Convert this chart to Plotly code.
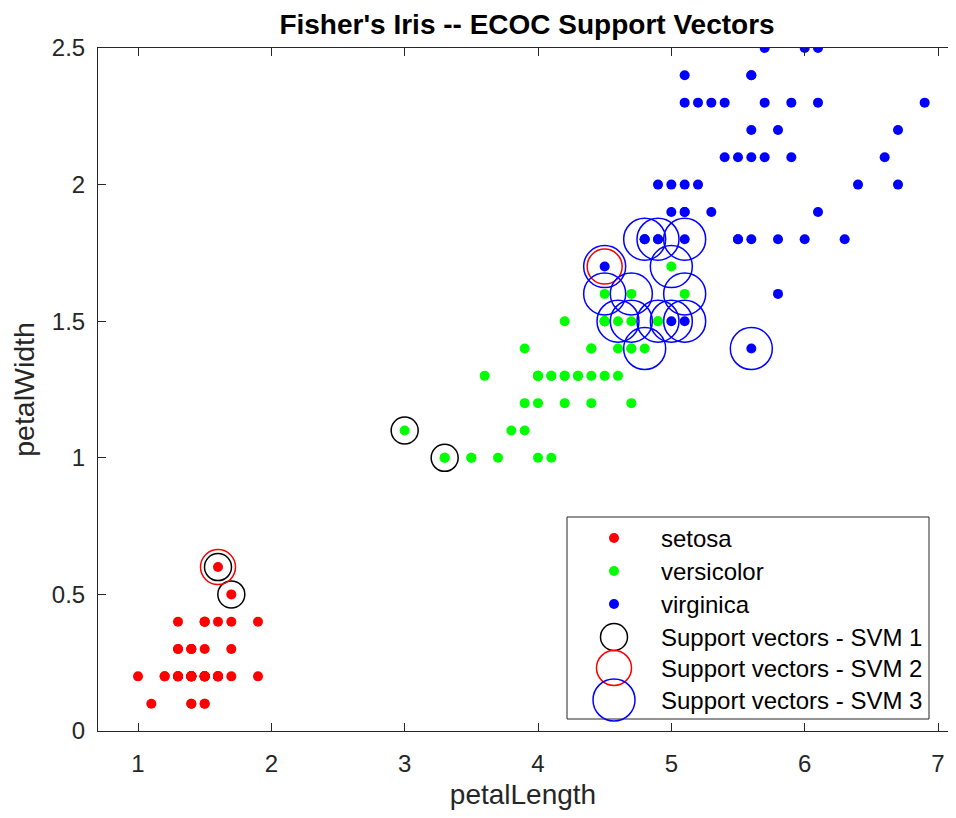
import plotly.graph_objects as go

# ---------------- data (Fisher's iris petal measurements) ----------------
setosa_len = [1.4,1.4,1.3,1.5,1.4,1.7,1.4,1.5,1.4,1.5,1.5,1.6,1.4,1.1,1.2,1.5,1.3,1.4,1.7,1.5,
              1.7,1.5,1.0,1.7,1.9,1.6,1.6,1.5,1.4,1.6,1.6,1.5,1.5,1.4,1.5,1.2,1.3,1.4,1.3,1.5,
              1.3,1.3,1.3,1.6,1.9,1.4,1.6,1.4,1.5,1.4]
setosa_wid = [0.2,0.2,0.2,0.2,0.2,0.4,0.3,0.2,0.2,0.1,0.2,0.2,0.1,0.1,0.2,0.4,0.4,0.3,0.3,0.3,
              0.2,0.4,0.2,0.5,0.2,0.2,0.4,0.2,0.2,0.2,0.2,0.4,0.1,0.2,0.2,0.2,0.2,0.1,0.2,0.2,
              0.3,0.3,0.2,0.6,0.4,0.3,0.2,0.2,0.2,0.2]
versicolor_len = [4.7,4.5,4.9,4.0,4.6,4.5,4.7,3.3,4.6,3.9,3.5,4.2,4.0,4.7,3.6,4.4,4.5,4.1,4.5,3.9,
                  4.8,4.0,4.9,4.7,4.3,4.4,4.8,5.0,4.5,3.5,3.8,3.7,3.9,5.1,4.5,4.5,4.7,4.4,4.1,4.0,
                  4.4,4.6,4.0,3.3,4.2,4.2,4.2,4.3,3.0,4.1]
versicolor_wid = [1.4,1.5,1.5,1.3,1.5,1.3,1.6,1.0,1.3,1.4,1.0,1.5,1.0,1.4,1.3,1.4,1.5,1.0,1.5,1.1,
                  1.8,1.3,1.5,1.2,1.3,1.4,1.4,1.7,1.5,1.0,1.1,1.0,1.2,1.6,1.5,1.6,1.5,1.3,1.3,1.3,
                  1.2,1.4,1.2,1.0,1.3,1.2,1.3,1.3,1.1,1.3]
virginica_len = [6.0,5.1,5.9,5.6,5.8,6.6,4.5,6.3,5.8,6.1,5.1,5.3,5.5,5.0,5.1,5.3,5.5,6.7,6.9,5.0,
                 5.7,4.9,6.7,4.9,5.7,6.0,4.8,4.9,5.6,5.8,6.1,6.4,5.6,5.1,5.6,6.1,5.6,5.5,4.8,5.4,
                 5.6,5.1,5.1,5.9,5.7,5.2,5.0,5.2,5.4,5.1]
virginica_wid = [2.5,1.9,2.1,1.8,2.2,2.1,1.7,1.8,1.8,2.5,2.0,1.9,2.1,2.0,2.4,2.3,1.8,2.2,2.3,1.5,
                 2.3,2.0,2.0,1.8,2.1,1.8,1.8,1.8,2.1,1.6,1.9,2.0,2.2,1.5,1.4,2.3,2.4,1.8,1.8,2.1,
                 2.4,2.3,1.9,2.3,2.5,2.3,1.9,2.0,2.3,1.8]

# support vectors of the three binary SVM learners
sv1_len = [1.6, 1.7, 3.0, 3.3]
sv1_wid = [0.6, 0.5, 1.1, 1.0]
sv2_len = [1.6, 4.5]
sv2_wid = [0.6, 1.7]
sv3_len = [4.5, 4.5, 4.7, 5.1, 4.8, 4.9, 5.1, 5.0, 4.6, 4.7, 4.9, 5.0, 5.1, 4.8, 5.6]
sv3_wid = [1.7, 1.6, 1.6, 1.6, 1.8, 1.8, 1.8, 1.7, 1.5, 1.5, 1.5, 1.5, 1.5, 1.4, 1.4]

x_ticks = [1, 2, 3, 4, 5, 6, 7]
y_ticks = [0, 0.5, 1, 1.5, 2, 2.5]
y_tick_labels = ["0", "0.5", "1", "1.5", "2", "2.5"]

class_names = ["setosa", "versicolor", "virginica"]
class_colors = ["#FF0000", "#00FF00", "#0000FF"]
sv_names = ["Support vectors - SVM 1", "Support vectors - SVM 2", "Support vectors - SVM 3"]
sv_colors = ["#000000", "#FF0000", "#0000FF"]
sv_sizes = [27, 35, 42]

# ---------------- layout geometry ----------------
# the page body has an 8px margin, so figure coords = page coords - 8;
# the figure is sized so that the page does not overflow the 956x818 window
OFF = 8
W, H = 940, 802
ML, MR, MT, MB = 90, 0, 40, 79
PW, PH = W - ML - MR, H - MT - MB
FONT = "Liberation Sans, Arial, Helvetica, sans-serif"
AX = "#262626"

fig = go.Figure()

for xs, ys, name, col in zip([setosa_len, versicolor_len, virginica_len],
                             [setosa_wid, versicolor_wid, virginica_wid],
                             class_names, class_colors):
    fig.add_trace(go.Scatter(x=xs, y=ys, mode="markers", name=name,
                             marker=dict(color=col, size=10, line=dict(width=0)),
                             showlegend=False))

for xs, ys, name, col, sz in zip([sv1_len, sv2_len, sv3_len], [sv1_wid, sv2_wid, sv3_wid],
                                 sv_names, sv_colors, sv_sizes):
    fig.add_trace(go.Scatter(x=xs, y=ys, mode="markers", name=name,
                             marker=dict(symbol="circle-open", color=col, size=sz,
                                         line=dict(width=1.5, color=col)),
                             showlegend=False))


def px2paper(px, py):
    """page pixel -> paper fraction of the plot area"""
    px -= OFF
    py -= OFF
    return (px - ML) / PW, 1 - (py - MT) / PH


# ---------------- custom legend (MATLAB style box) ----------------
shapes = []
annotations = []
bx0, by0 = px2paper(567, 517)
bx1, by1 = px2paper(929, 719)
shapes.append(dict(type="rect", xref="paper", yref="paper", x0=bx0, x1=bx1, y0=by1, y1=by0,
                   line=dict(color=AX, width=1), fillcolor="white", layer="above"))
row_y = [538, 571, 604, 637, 668, 700]
sym_x = 614
text_x = 659
entries = ([(n, c, 10, True) for n, c in zip(class_names, class_colors)] +
           [(n, c, s, False) for n, c, s in zip(sv_names, sv_colors, sv_sizes)])
for (name, col, size, filled), ry in zip(entries, row_y):
    ax_, ay_ = px2paper(sym_x, ry)
    r = size / 2
    shapes.append(dict(type="circle", xref="paper", yref="paper",
                       xsizemode="pixel", ysizemode="pixel", xanchor=ax_, yanchor=ay_,
                       x0=-r, x1=r, y0=-r, y1=r, layer="above",
                       fillcolor=col if filled else "rgba(0,0,0,0)",
                       line=dict(color=col, width=0 if filled else 1.5)))
    tx, ty = px2paper(text_x, ry)
    annotations.append(dict(text=name, x=tx, y=ty, xref="paper", yref="paper",
                            xanchor="left", yanchor="middle", showarrow=False,
                            font=dict(family=FONT, size=24, color="#000000")))

fig.update_layout(
    width=W, height=H,
    margin=dict(l=ML, r=MR, t=MT, b=MB, pad=0, autoexpand=False),
    paper_bgcolor="white", plot_bgcolor="white",
    font=dict(family=FONT, color=AX),
    title=dict(text="<b>Fisher's Iris -- ECOC Support Vectors</b>",
               x=(ML + 858 / 2) / W, xref="container", xanchor="center",
               y=1 - 16 / H, yref="container", yanchor="middle",
               font=dict(family=FONT, size=28, color="#000000")),
    shapes=shapes, annotations=annotations,
    showlegend=False,
)

fig.update_xaxes(range=[0.7, 7.075], tickvals=x_ticks, ticktext=[str(v) for v in x_ticks],
                 ticks="inside", ticklen=8, tickwidth=1, tickcolor=AX,
                 showline=True, linecolor=AX, linewidth=1, mirror="ticks",
                 showgrid=False, zeroline=False, automargin=False,
                 tickfont=dict(family=FONT, size=24, color=AX),
                 ticklabelstandoff=11,
                 title=dict(text="petalLength", standoff=12,
                            font=dict(family=FONT, size=28, color=AX)))
fig.update_yaxes(range=[0, 2.5], tickvals=y_ticks, ticktext=y_tick_labels,
                 ticks="inside", ticklen=8, tickwidth=1, tickcolor=AX,
                 showline=True, linecolor=AX, linewidth=1, mirror=False,
                 showgrid=False, zeroline=False, automargin=False,
                 tickfont=dict(family=FONT, size=24, color=AX),
                 ticklabelstandoff=7,
                 title=dict(text="petalWidth", standoff=11,
                            font=dict(family=FONT, size=28.5, color=AX)))

fig.write_html("out.html")
